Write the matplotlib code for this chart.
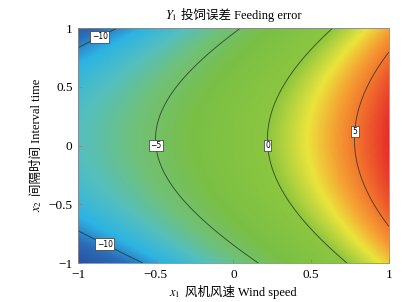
import numpy as np
import matplotlib
matplotlib.use('Agg')
import matplotlib.pyplot as plt
from matplotlib.colors import LinearSegmentedColormap
from matplotlib.transforms import IdentityTransform

# fitted quadratic response surface (coded factors)
# Y1 = b0 + b1*x1 + b2*x2 + b11*x1^2 + b22*x2^2 + b12*x1*x2
coef_names = ['b0', 'b1', 'b2', 'b11', 'b22', 'b12']
coef_values = [-1.70, 7.38, 0.44, 1.55, -4.08, 0.0]

contour_levels = [-10, -5, 0, 5]
label_spots = [(-0.87, 0.95), (-0.82, -0.82), (-0.5, 0.0), (0.22, 0.0), (0.785, 0.12)]

x_ticks = [-1, -0.5, 0, 0.5, 1]
y_ticks = [-1, -0.5, 0, 0.5, 1]
tick_text = ['\u22121', '\u22120.5', '0', '0.5', '1']

# colour stops (value, colour)
stop_values = [-12.1, -10.6, -9.2, -7.5, -5.8, -3.5, 0.0, 2.2, 3.8, 5.5, 7.3]
stop_colors = ['#2950a0', '#2b6cb8', '#2cb4e4', '#55bfbf', '#70c07a', '#7abf45',
               '#8cc63f', '#ece53c', '#f5a233', '#f06a2c', '#e62f29']

plt.rcParams['font.family'] = ['Liberation Serif', 'Noto Sans CJK SC']
plt.rcParams['mathtext.fontset'] = 'stix'

c = dict(zip(coef_names, coef_values))
x1 = np.linspace(-1, 1, 301)
x2 = np.linspace(-1, 1, 301)
X1, X2 = np.meshgrid(x1, x2)
Z = (c['b0'] + c['b1'] * X1 + c['b2'] * X2 + c['b11'] * X1 ** 2
     + c['b22'] * X2 ** 2 + c['b12'] * X1 * X2)

vmin, vmax = stop_values[0], stop_values[-1]
pos = [(v - vmin) / (vmax - vmin) for v in stop_values]
cmap = LinearSegmentedColormap.from_list('fe', list(zip(pos, stop_colors)))

fig = plt.figure(figsize=(4.11, 3.02), dpi=100)
ax = fig.add_axes([0.19, 0.129, 0.756, 0.778])

ax.pcolormesh(X1, X2, Z, cmap=cmap, vmin=vmin, vmax=vmax, shading='gouraud')
cs = ax.contour(X1, X2, Z, levels=contour_levels, colors='#1e2a1e',
                linewidths=0.65, alpha=0.75, linestyles='solid')
labels = ax.clabel(cs, fmt=lambda v: f'{v:.0f}'.replace('-', '\u2212'),
                   fontsize=5.5, inline=False, manual=label_spots)
for t in labels:
    t.set_rotation(0)
    t.set_family('DejaVu Sans')
    t.set_color('black')
    t.set_zorder(5)
    t.set_bbox(dict(boxstyle='square,pad=0.18', fc='white', ec='#333333', lw=0.5))

ax.set_xlim(-1, 1)
ax.set_ylim(-1, 1)
ax.set_xticks(x_ticks)
ax.set_xticklabels(tick_text)
ax.set_yticks(y_ticks)
ax.set_yticklabels(tick_text)
ax.tick_params(direction='in', length=3, width=0.6, color='#888888',
               labelsize=9.5, pad=4)
for s in ax.spines.values():
    s.set_color('#888888')
    s.set_linewidth(0.6)

# labels made of an italic math part and a plain (CJK + latin) part
r = fig.canvas.get_renderer()


def two_part(cx, cy, math, plain, vertical=False, size=9):
    rot = 90 if vertical else 0
    kw = dict(fontsize=size, ha='left', va='baseline', rotation=rot,
              rotation_mode='anchor', transform=IdentityTransform())
    t1 = fig.text(0, 0, math, **kw)
    t2 = fig.text(0, 0, plain, **kw)
    b1 = t1.get_window_extent(r)
    b2 = t2.get_window_extent(r)
    gap = 4
    if vertical:
        total = b1.height + gap + b2.height
        start = cy - total / 2
        t1.set_position((cx, start))
        t2.set_position((cx, start + b1.height + gap))
    else:
        total = b1.width + gap + b2.width
        start = cx - total / 2
        t1.set_position((start, cy))
        t2.set_position((start + b1.width + gap, cy))


W, H = fig.bbox.width, fig.bbox.height
two_part(233, H - 19, '$Y_1$', '投饲误差 Feeding error')
two_part(233, H - 296, '$x_1$', '风机风速 Wind speed')
two_part(40, H - 145, '$x_2$', '间隔时间 Interval time', vertical=True)

fig.savefig('out.png', dpi=100)
